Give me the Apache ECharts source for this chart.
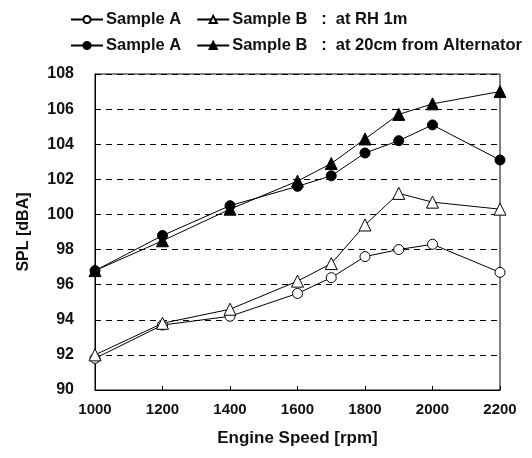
<!DOCTYPE html>
<html>
<head>
<meta charset="utf-8">
<script src="https://cdn.jsdelivr.net/npm/echarts@6/dist/echarts.min.js"></script>
<style>
  html, body { margin: 0; padding: 0; background: #fff; }
  #chart { width: 532px; height: 458px; }
</style>
</head>
<body>
<div id="chart"></div>
<script>
var speeds = [1000, 1200, 1400, 1600, 1700, 1800, 1900, 2000, 2200];
var sampleA_RH = [91.8, 93.7, 94.2, 95.5, 96.4, 97.6, 98.0, 98.3, 96.7];
var sampleB_RH = [92.0, 93.8, 94.6, 96.2, 97.2, 99.4, 101.2, 100.7, 100.3];
var sampleA_20 = [96.8, 98.8, 100.5, 101.6, 102.2, 103.5, 104.2, 105.1, 103.1];
var sampleB_20 = [96.8, 98.5, 100.3, 101.9, 102.9, 104.3, 105.7, 106.3, 107.0];

var legendText = {
  a_rh: 'Sample A',
  b_rh: 'Sample B   :  at RH 1m',
  a_20: 'Sample A',
  b_20: 'Sample B   :  at 20cm from Alternator'
};

function pairs(vals) {
  return speeds.map(function (s, i) { return [s, vals[i]]; });
}

function mkSeries(id, vals, symbol, filled) {
  return {
    name: id,
    type: 'line',
    data: pairs(vals),
    symbol: symbol,
    symbolSize: symbol === 'triangle' ? 12 : 10,
    lineStyle: { color: '#000', width: 1 },
    itemStyle: { color: filled ? '#000' : '#fff', borderColor: '#000', borderWidth: 1 },
    emphasis: { disabled: true },
    z: filled ? 3 : 2
  };
}

var font = 'Liberation Sans, Arial, sans-serif';
var legendBase = {
  orient: 'horizontal',
  width: 467,
  itemWidth: 32,
  itemHeight: 9,
  itemGap: 15,
  textStyle: { fontFamily: font, fontSize: 16.5, fontWeight: 'bold', color: '#111', padding: [0, 0, 0, -2] },
  formatter: function (n) { return legendText[n]; },
  selectedMode: false
};

var chart = echarts.init(document.getElementById('chart'));
chart.setOption({
  animation: false,
  legend: [
    Object.assign({}, legendBase, { data: ['a_rh', 'b_rh'], left: 65, top: 6 }),
    Object.assign({}, legendBase, { data: ['a_20', 'b_20'], left: 65, top: 32 })
  ],
  grid: { left: 95, right: 32, top: 74, bottom: 68, show: true, borderColor: '#000', borderWidth: 1 },
  xAxis: {
    type: 'value',
    min: 1000,
    max: 2200,
    interval: 200,
    name: 'Engine Speed [rpm]',
    nameLocation: 'middle',
    nameGap: 40,
    nameTextStyle: { fontFamily: font, fontSize: 17, fontWeight: 'bold', color: '#111' },
    axisLine: { lineStyle: { color: '#000' } },
    axisTick: { inside: true, length: 4, lineStyle: { color: '#000' } },
    axisLabel: {
      fontFamily: font, fontSize: 15, fontWeight: 'bold', color: '#111', margin: 12,
      formatter: function (v) { return String(v); }
    },
    splitLine: { show: false }
  },
  yAxis: {
    type: 'value',
    min: 90,
    max: 108,
    interval: 2,
    name: 'SPL [dBA]',
    nameLocation: 'middle',
    nameGap: 63,
    nameTextStyle: { fontFamily: font, fontSize: 16, fontWeight: 'bold', color: '#111' },
    axisLine: { show: true, lineStyle: { color: '#000' } },
    axisTick: { show: false },
    axisLabel: { fontFamily: font, fontSize: 16, fontWeight: 'bold', color: '#111', margin: 21 },
    splitLine: { show: true, lineStyle: { color: '#000', type: [6, 5], width: 1 } }
  },
  series: [
    mkSeries('a_rh', sampleA_RH, 'circle', false),
    mkSeries('b_rh', sampleB_RH, 'triangle', false),
    mkSeries('a_20', sampleA_20, 'circle', true),
    mkSeries('b_20', sampleB_20, 'triangle', true)
  ]
});
</script>
</body>
</html>
